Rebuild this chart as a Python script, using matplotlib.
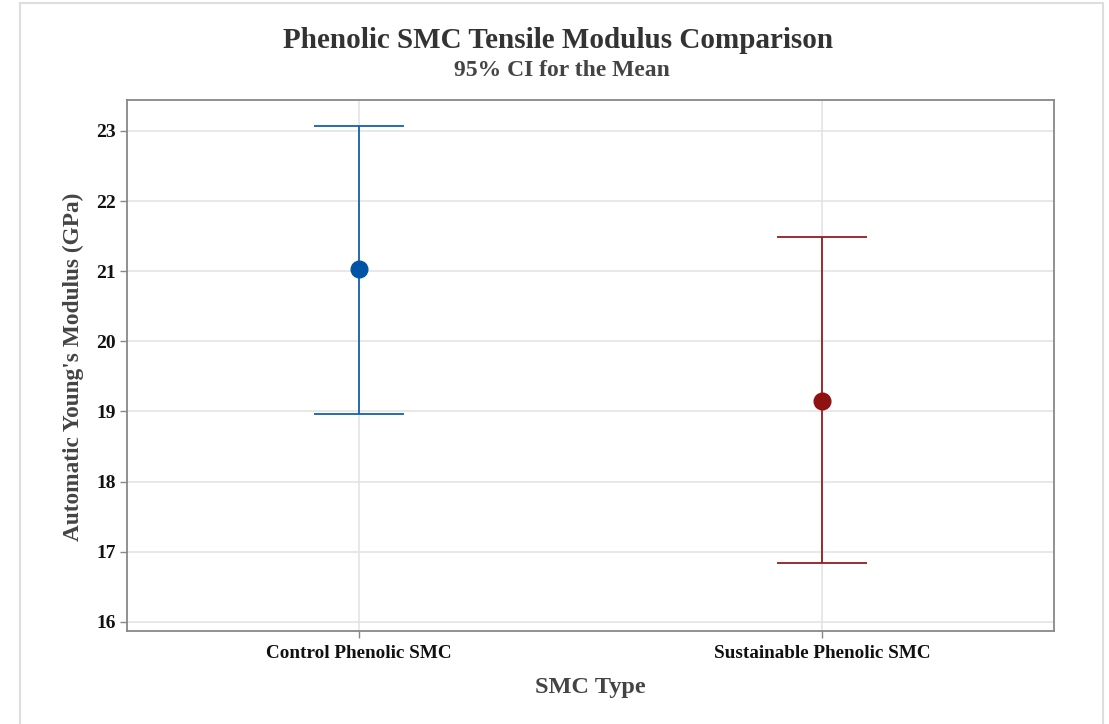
import matplotlib
matplotlib.use("Agg")
import matplotlib.pyplot as plt
from matplotlib.patches import Rectangle

categories = ["Control Phenolic SMC", "Sustainable Phenolic SMC"]
means = [21.03, 19.15]
lower = [18.96, 16.84]
upper = [23.07, 21.49]
yticks = [16, 17, 18, 19, 20, 21, 22, 23]

line_colors = ["#1660B0", "#951C1C"]
marker_colors = ["#0054A6", "#8E1212"]

plt.rcParams["font.family"] = ["Liberation Serif", "DejaVu Serif"]
plt.rcParams["font.weight"] = "bold"

fig = plt.figure(figsize=(11.09, 7.24), dpi=100)
fig.patches.append(Rectangle((20/1109, -0.1), (1103-20)/1109, 1.1 - 3/724,
                             transform=fig.transFigure, fill=False,
                             edgecolor="#dddddd", linewidth=1.5))

ax = fig.add_axes([127/1109, 1 - 631/724, (1054-127)/1109, (631-100)/724])

for i, (m, lo, hi) in enumerate(zip(means, lower, upper)):
    ax.errorbar([i], [m], yerr=[[m - lo], [hi - m]], fmt="none",
                ecolor=line_colors[i], elinewidth=1.3, capsize=32.5,
                capthick=1.3, zorder=3)
    ax.plot([i], [m], marker="o", markersize=12, color=marker_colors[i],
            linestyle="none", zorder=4)

ax.set_xlim(-0.5, 1.5)
ax.set_ylim(15.87, 23.44)
ax.set_xticks(range(len(categories)))
ax.set_xticklabels(categories, fontsize=13.8, fontweight="bold", color="#111111")
ax.set_yticks(yticks)
ax.set_yticklabels([str(t) for t in yticks], fontsize=14, fontweight="bold", color="#111111")
ax.tick_params(axis="both", direction="out", length=5, width=1, color="#888888", pad=3)
ax.tick_params(axis="x", pad=5)
ax.grid(True, color="#e4e4e4", linewidth=1.2, zorder=0)
ax.set_axisbelow(True)
for sp in ax.spines.values():
    sp.set_color("#888888")
    sp.set_linewidth(1.3)

fig.text(558/1109, 1 - 41/724, "Phenolic SMC Tensile Modulus Comparison",
         ha="center", va="center", fontsize=21, fontweight="bold", color="#333333")
fig.text(562/1109, 1 - 71/724, "95% CI for the Mean",
         ha="center", va="center", fontsize=17, fontweight="bold", color="#444444")
fig.text(590/1109, 1 - 688/724, "SMC Type",
         ha="center", va="center", fontsize=17.5, fontweight="bold", color="#444444")
fig.text(73/1109, 1 - 367/724, "Automatic Young's Modulus (GPa)",
         ha="center", va="center", rotation=90, fontsize=16.8, fontweight="bold", color="#444444")

fig.savefig("out.png", dpi=100)
